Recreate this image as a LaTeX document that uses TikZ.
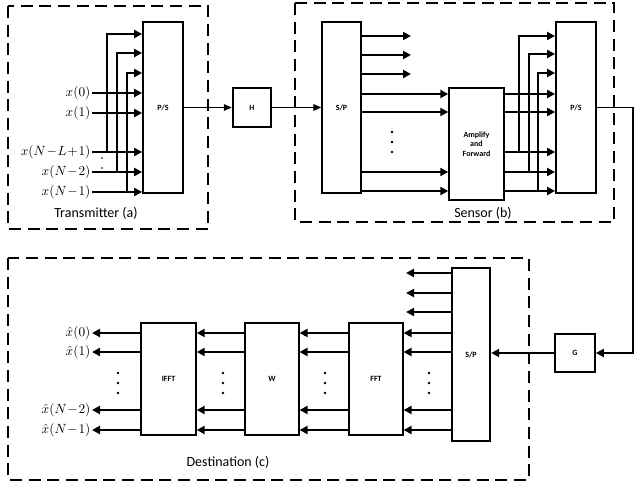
\documentclass[tikz,border=0pt]{standalone}
\usepackage{fontspec}
\setsansfont{Carlito}
\usetikzlibrary{arrows.meta}
\begin{document}
\begin{tikzpicture}[x=0.75pt,y=-0.75pt,
  blk/.style={draw,line width=1.3pt,fill=white,inner sep=0pt,font=\sffamily\bfseries\fontsize{6}{7}\selectfont,align=center},
  grp/.style={draw,line width=1.6pt,dash pattern=on 9pt off 5pt},
  sig/.style={line width=1.8pt,-{Triangle[length=6pt,width=6pt]}},
  bus/.style={line width=1.8pt},
  thinarr/.style={line width=1pt,-{Triangle[length=6pt,width=5pt]}},
  lbl/.style={font=\fontsize{10}{11}\selectfont,anchor=east,inner sep=1pt},
  grpcap/.style={font=\sffamily\fontsize{10.5}{12}\selectfont},
  dt/.style={circle,fill,inner sep=0.7pt}]
\useasboundingbox (0,0) rectangle (640,484);
% groups
\draw[grp] (8,6) rectangle (208,229);
\draw[grp] (295,3) rectangle (614,222);
\draw[grp] (8,258) rectangle (529,480);
\node[grpcap] (tcap) at (96,213) {Transmitter (a)};
\node[grpcap] (scap) at (483,213) {Sensor (b)};
\node[grpcap] (dcap) at (228,462) {Destination (c)};
% blocks
\node[blk,minimum width=30pt,minimum height=128pt] (ps1) at (163,107.5) {P/S};
\node[blk,minimum width=29pt,minimum height=29pt] (H) at (252,107.5) {H};
\node[blk,minimum width=29pt,minimum height=128pt] (sp1) at (341.5,107.5) {S/P};
\node[blk,minimum width=41pt,minimum height=84pt] (af) at (476.5,144) {Amplify\\and\\Forward};
\node[blk,minimum width=30pt,minimum height=128pt] (ps2) at (576,107.5) {P/S};
\node[blk,minimum width=30pt,minimum height=29pt] (G) at (575,353) {G};
\node[blk,minimum width=29pt,minimum height=130pt] (sp2) at (471,354.5) {S/P};
\node[blk,minimum width=40pt,minimum height=84pt] (fft) at (376,379) {FFT};
\node[blk,minimum width=40pt,minimum height=84pt] (w) at (272,379) {W};
\node[blk,minimum width=41pt,minimum height=84pt] (ifft) at (168.5,379) {IFFT};
% transmitter inputs
\foreach \y/\t/\n in {93/{x(0)}/a,113/{x(1)}/b,152/{x(N\!-\!L\!+\!1)}/c,172/{x(N\!-\!2)}/d,192/{x(N\!-\!1)}/e}{
  \node[lbl] (in\n) at (92,\y) {$\t$};
  \draw[sig] (in\n.east |- 0,\y) -- (ps1.west |- 0,\y);
}
\foreach \x/\ya/\yb in {107/34/152,117/53/172,127/73/192}{
  \draw[bus] (\x,\yb) -- (\x,\ya);
  \draw[sig] (\x-0.9,\ya) -- (ps1.west |- 0,\ya);
}
\node[dt,inner sep=0.5pt] (t1) at (102,158) {};
\node[dt,inner sep=0.5pt] (t2) at (102,168) {};
\draw[thinarr] (ps1.east) -- (H.west);
\draw[thinarr] (H.east) -- (sp1.west);
% sensor
\foreach \y in {36,55,74}{ \coordinate (so\y) at (411,\y); \draw[sig] (sp1.east |- 0,\y) -- (so\y); }
\foreach \y in {94,112,172,191}{ \draw[sig] (sp1.east |- 0,\y) -- (af.west |- 0,\y); }
\foreach \y in {132,142,152}{ \node[dt] at (392,\y) {}; }
\foreach \y in {94,112,152,172,191}{ \draw[sig] (af.east |- 0,\y) -- (ps2.west |- 0,\y); }
\foreach \x/\ya/\yb in {519/36/152,529/54/172,538/73/191}{
  \draw[bus] (\x,\yb) -- (\x,\ya);
  \draw[sig] (\x-0.9,\ya) -- (ps2.west |- 0,\ya);
}
\coordinate (c1) at (633,107.5);
\coordinate (c2) at (633,353);
\draw[line width=1.3pt,-{Triangle[length=6pt,width=6pt]}] (ps2.east) -- (c1) -- (c2) -- (G.east);
\draw[sig] (G.west) -- (sp2.east |- G.west);
% destination
\foreach \y in {273,293,312}{ \coordinate (do\y) at (406,\y); \draw[sig] (sp2.west |- 0,\y) -- (do\y); }
\foreach \y in {333,352,410,430}{
  \draw[sig] (sp2.west |- 0,\y) -- (fft.east |- 0,\y);
  \draw[sig] (fft.west |- 0,\y) -- (w.east |- 0,\y);
  \draw[sig] (w.west |- 0,\y) -- (ifft.east |- 0,\y);
}
\foreach \y/\t/\n in {333/{\hat x(0)}/a,352/{\hat x(1)}/b,410/{\hat x(N\!-\!2)}/c,430/{\hat x(N\!-\!1)}/d}{
  \node[lbl] (out\n) at (92,\y) {$\t$};
  \draw[sig] (ifft.west |- 0,\y) -- (out\n.east |- 0,\y);
}
\foreach \x in {118,223,325,429}{ \foreach \y in {373,383,393}{ \node[dt] at (\x,\y) {}; } }
\end{tikzpicture}
\end{document}
